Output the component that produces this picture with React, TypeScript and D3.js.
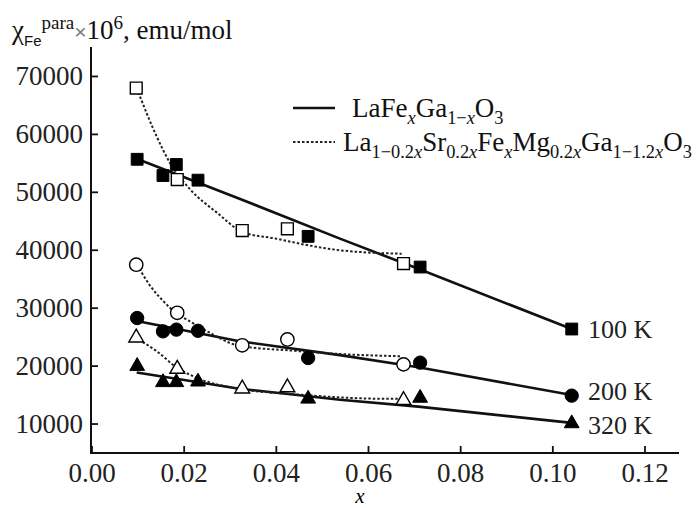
import { useEffect, useRef } from 'react';
import * as d3 from 'd3';

// x positions of the samples
const xFilled = [0.0098, 0.0154, 0.0183, 0.023, 0.0469, 0.0712, 0.1041];
const xOpen = [0.0096, 0.0185, 0.0326, 0.0424, 0.0676];

// LaFexGa1-xO3 (filled markers)
const filled100 = [55700, 52900, 54800, 52100, 42400, 37100, 26400];
const filled200 = [28300, 26000, 26300, 26100, 21400, 20600, 14900];
const filled320 = [20000, 17200, 17200, 17300, 14350, 14500, 10100];

// La1-0.2xSr0.2xFexMg0.2xGa1-1.2xO3 (open markers)
const open100 = [68000, 52200, 43400, 43700, 37700];
const open200 = [37500, 29200, 23600, 24600, 20300];
const open320 = [24900, 19500, 16100, 16300, 14100];

// solid guide lines
const solidX = [0.0097, 0.032, 0.0538, 0.0708, 0.1041];
const solid100 = [55800, 48900, 42000, 36800, 26400];
const solid200 = [27800, 24300, 21900, 19800, 15000];
const solid320 = [18900, 16100, 14200, 13000, 10200];

// dotted guide lines
const dot100X = [0.0097, 0.014, 0.0169, 0.0213, 0.0271, 0.0328, 0.04, 0.0466, 0.0538, 0.0672];
const dot100 = [68000, 59700, 55100, 50500, 46500, 43100, 42000, 40900, 40000, 39400];
const dot200X = [0.0098, 0.0125, 0.0155, 0.0185, 0.0213, 0.025, 0.032, 0.043, 0.056, 0.0672];
const dot200 = [37500, 34000, 31200, 29000, 27700, 26000, 23500, 22700, 22000, 21700];
const dot320X = [0.0093, 0.014, 0.0184, 0.0234, 0.032, 0.043, 0.0647, 0.0668];
const dot320 = [24900, 22600, 19750, 17770, 16050, 15200, 14350, 14350];

const xTicks = [0, 0.02, 0.04, 0.06, 0.08, 0.1, 0.12];
const yTicks = [10000, 20000, 30000, 40000, 50000, 60000, 70000];
const tempLabels = ['100 K', '200 K', '320 K'];

type Seg = { t: string; sub?: boolean; sup?: boolean; it?: boolean; fam?: string; fill?: string; size?: number };

const FONT = "'Liberation Serif', Tinos, 'Times New Roman', 'DejaVu Serif', serif";
const SANS = "'Liberation Sans', Arimo, Arial, sans-serif";

function richText(g: any, x: number, y: number, segs: Seg[], base: number) {
  const text = g.append('text')
    .attr('x', x)
    .attr('y', y)
    .style('font-family', FONT)
    .style('font-size', base + 'px')
    .attr('fill', '#111');
  let shift = 0;
  segs.forEach(s => {
    const target = s.sub ? base * 0.26 : s.sup ? -base * 0.38 : 0;
    const ts = text.append('tspan')
      .attr('dy', target - shift)
      .style('font-size', (s.size ?? (s.sub || s.sup ? base * 0.68 : base)) + 'px')
      .text(s.t);
    if (s.it) ts.style('font-style', 'italic');
    if (s.fam) ts.style('font-family', s.fam);
    if (s.fill) ts.attr('fill', s.fill);
    shift = target;
  });
}

export default function App() {
  const svgRef = useRef<SVGSVGElement>(null);

  useEffect(() => {
    const svg = d3.select(svgRef.current);
    svg.selectAll('*').remove();

    const x = d3.scaleLinear().domain([0, 0.12]).range([92, 645]);
    const y = d3.scaleLinear().domain([5000, 75000]).range([453, 47.5]);

    const g = svg.append('g');

    // axes
    g.append('line').attr('x1', 91).attr('x2', 91).attr('y1', 47).attr('y2', 454)
      .attr('stroke', '#111').attr('stroke-width', 2);
    g.append('line').attr('x1', 90).attr('x2', 679).attr('y1', 453).attr('y2', 453)
      .attr('stroke', '#111').attr('stroke-width', 2.2);

    g.selectAll('.xt').data(xTicks).join('line')
      .attr('x1', d => x(d)).attr('x2', d => x(d))
      .attr('y1', 453).attr('y2', 446)
      .attr('stroke', '#111').attr('stroke-width', 1.8);
    g.selectAll('.xl').data(xTicks).join('text')
      .attr('x', d => x(d)).attr('y', 482)
      .attr('text-anchor', 'middle')
      .style('font-family', FONT).style('font-size', '27px').attr('fill', '#222')
      .text(d => d3.format('.2f')(d));

    g.selectAll('.yt').data(yTicks).join('line')
      .attr('x1', 91).attr('x2', 98)
      .attr('y1', d => y(d)).attr('y2', d => y(d))
      .attr('stroke', '#111').attr('stroke-width', 1.8);
    g.selectAll('.yl').data(yTicks).join('text')
      .attr('x', 83).attr('y', d => y(d) + 9)
      .attr('text-anchor', 'end')
      .style('font-family', FONT).style('font-size', '27px').attr('fill', '#222')
      .text(d => String(d));

    g.append('text').attr('x', 360).attr('y', 503)
      .attr('text-anchor', 'middle')
      .style('font-family', FONT).style('font-size', '21px').style('font-style', 'italic')
      .text('x');

    richText(g, 12, 39, [
      { t: 'χ', size: 27 },
      { t: 'Fe', sub: true, fam: SANS, size: 15 },
      { t: 'para', sup: true, size: 19 },
      { t: '×', fill: '#777', fam: SANS, size: 21 },
      { t: '10' },
      { t: '6', sup: true, size: 19 },
      { t: ', emu/mol' },
    ], 27);

    // guide lines
    const solidLine = d3.line<[number, number]>().x(d => x(d[0])).y(d => y(d[1]));
    const dotLine = d3.line<[number, number]>().x(d => x(d[0])).y(d => y(d[1])).curve(d3.curveMonotoneX);

    [solid100, solid200, solid320].forEach(vals => {
      g.append('path')
        .attr('d', solidLine(solidX.map((v, i) => [v, vals[i]] as [number, number])))
        .attr('fill', 'none').attr('stroke', '#111').attr('stroke-width', 2.6);
    });
    [[dot100X, dot100], [dot200X, dot200], [dot320X, dot320]].forEach(([xs, vals]) => {
      g.append('path')
        .attr('d', dotLine(xs.map((v, i) => [v, vals[i]] as [number, number])))
        .attr('fill', 'none').attr('stroke', '#222').attr('stroke-width', 2)
        .attr('stroke-dasharray', '2.5,2');
    });

    // markers
    const sq = d3.symbol().type(d3.symbolSquare).size(140);
    const ci = d3.symbol().type(d3.symbolCircle).size(140);
    const tr = d3.symbol().type(d3.symbolTriangle).size(95);
    const sets: [number[], number[], any, boolean][] = [
      [xOpen, open100, sq, false],
      [xOpen, open200, ci, false],
      [xOpen, open320, tr, false],
      [xFilled, filled100, sq, true],
      [xFilled, filled200, ci, true],
      [xFilled, filled320, tr, true],
    ];
    sets.forEach(([xs, vals, sym, filled]) => {
      g.append('g').selectAll('path').data(vals).join('path')
        .attr('transform', (d, i) => `translate(${x(xs[i])},${y(d)})`)
        .attr('d', sym())
        .attr('fill', filled ? '#000' : '#fff')
        .attr('stroke', '#000')
        .attr('stroke-width', filled ? 1 : 1.4);
    });

    // temperature labels next to last filled markers
    const labelDy = [9, 4, 11];
    [filled100, filled200, filled320].forEach((vals, i) => {
      g.append('text')
        .attr('x', 588)
        .attr('y', y(vals[vals.length - 1]) + labelDy[i])
        .style('font-family', FONT).style('font-size', '26px').attr('fill', '#222')
        .text(tempLabels[i]);
    });

    // legend
    g.append('line').attr('x1', 293).attr('x2', 335).attr('y1', 108).attr('y2', 108)
      .attr('stroke', '#111').attr('stroke-width', 2.6);
    g.append('line').attr('x1', 293).attr('x2', 335).attr('y1', 142).attr('y2', 142)
      .attr('stroke', '#222').attr('stroke-width', 2).attr('stroke-dasharray', '2.5,2');

    richText(g, 352, 117, [
      { t: 'LaFe' }, { t: 'x', sub: true, it: true }, { t: 'Ga' },
      { t: '1−', sub: true }, { t: 'x', sub: true, it: true }, { t: 'O' }, { t: '3', sub: true },
    ], 27);
    richText(g, 343, 151, [
      { t: 'La' }, { t: '1−0.2', sub: true }, { t: 'x', sub: true, it: true },
      { t: 'Sr' }, { t: '0.2', sub: true }, { t: 'x', sub: true, it: true },
      { t: 'Fe' }, { t: 'x', sub: true, it: true },
      { t: 'Mg' }, { t: '0.2', sub: true }, { t: 'x', sub: true, it: true },
      { t: 'Ga' }, { t: '1−1.2', sub: true }, { t: 'x', sub: true, it: true },
      { t: 'O' }, { t: '3', sub: true },
    ], 27);
  }, []);

  return (
    <svg ref={svgRef} width={697} height={508}
      style={{ position: 'absolute', left: 0, top: 0, background: '#fff' }} />
  );
}
